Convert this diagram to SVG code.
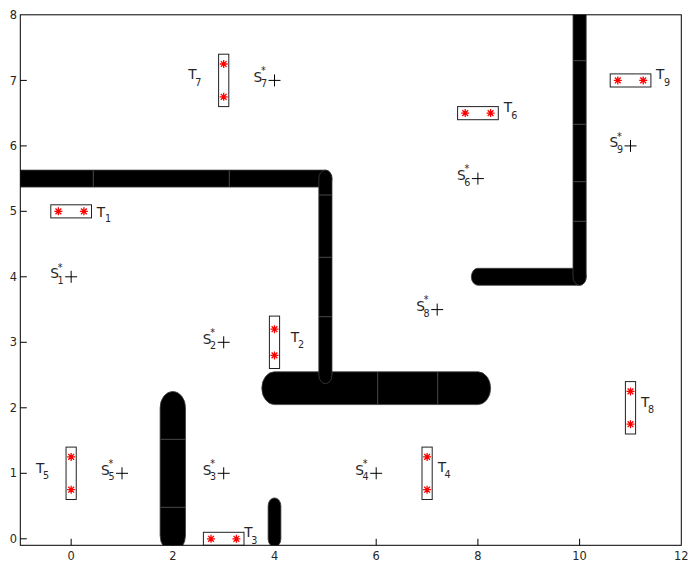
<svg xmlns="http://www.w3.org/2000/svg" xmlns:xlink="http://www.w3.org/1999/xlink" width="688" height="561" viewBox="0 0 688 561">
<style>
.bar{fill:#000;stroke:#404040;stroke-width:0.8}
.sep{stroke:#4a4a4a;stroke-width:1}
.box{fill:none;stroke:#222;stroke-width:1}
.tick{stroke:#000;stroke-width:1}
.tl{font-family:"DejaVu Sans",sans-serif;font-size:11.4px;fill:#262626}
.lab{font-family:"DejaVu Sans",sans-serif;font-size:13.7px;fill:#262626}
.sub{font-family:"DejaVu Sans",sans-serif;font-size:9.6px;fill:#262626}
</style>
<defs>
<clipPath id="plot"><rect x="20.3" y="14.8" width="661" height="530.5"/></clipPath>
<path id="star" d="M-4,0H4M0,-4V4M-2.9,-2.9L2.9,2.9M-2.9,2.9L2.9,-2.9" stroke="#ff0000" stroke-width="1.3" fill="none"/>
<path id="plus" d="M-6,0H6M0,-6V6" stroke="#000" stroke-width="1" fill="none"/>
</defs>
<rect width="688" height="561" fill="#fff"/>
<g id="obstacles" clip-path="url(#plot)">
<path class="bar" d="M-10,170.1 L325.4,170.1 A6.6 8.5 0 0 1 325.4,187.1 L-10,187.1 Z"/>
<path class="bar" d="M274.5,371.8 L477.9,371.8 A12.7 16.4 0 0 1 477.9,404.6 L274.5,404.6 A12.7 16.4 0 0 1 274.5,371.8 Z"/>
<path class="bar" d="M477.9,268.3 L579.6,268.3 A6.6 8.5 0 0 1 579.6,285.3 L477.9,285.3 A6.6 8.5 0 0 1 477.9,268.3 Z"/>
<path class="bar" d="M318.8,178.6 A6.6 8.5 0 0 1 332,178.6 L332,375.1 A6.6 8.5 0 0 1 318.8,375.1 Z"/>
<path class="bar" d="M160.1,407.8 A12.7 16.4 0 0 1 185.5,407.8 L185.5,535.5 A12.7 16.4 0 0 1 160.1,535.5 Z"/>
<path class="bar" d="M268.1,506.1 A6.4 8.2 0 0 1 280.9,506.1 L280.9,538.8 A6.4 8.2 0 0 1 268.1,538.8 Z"/>
<path class="bar" d="M573,-10 L586.2,-10 L586.2,276.8 A6.6 8.5 0 0 1 573,276.8 Z"/>
<g id="separators">
<line class="sep" x1="93.3" y1="170.5" x2="93.3" y2="186.7"/>
<line class="sep" x1="229.3" y1="170.5" x2="229.3" y2="186.7"/>
<line class="sep" x1="319.2" y1="195" x2="331.6" y2="195"/>
<line class="sep" x1="319.2" y1="257.3" x2="331.6" y2="257.3"/>
<line class="sep" x1="319.2" y1="316.7" x2="331.6" y2="316.7"/>
<line class="sep" x1="377.7" y1="372.2" x2="377.7" y2="404.2"/>
<line class="sep" x1="437.7" y1="372.2" x2="437.7" y2="404.2"/>
<line class="sep" x1="160.5" y1="439.3" x2="185.1" y2="439.3"/>
<line class="sep" x1="160.5" y1="507.3" x2="185.1" y2="507.3"/>
<line class="sep" x1="573.4" y1="60.7" x2="585.8" y2="60.7"/>
<line class="sep" x1="573.4" y1="124.3" x2="585.8" y2="124.3"/>
<line class="sep" x1="573.4" y1="181.7" x2="585.8" y2="181.7" stroke="#1e1e1e"/>
<line class="sep" x1="573.4" y1="221.3" x2="585.8" y2="221.3"/>
</g>
</g>
<g id="axes">
<rect x="20.3" y="14.8" width="661" height="530.5" fill="none" stroke="#000" stroke-width="1"/>
<path class="tick" d="M71.15,545.3V538.8M172.8,545.3V538.8M274.5,545.3V538.8M376.2,545.3V538.8M477.9,545.3V538.8M579.6,545.3V538.8M20.3,538.8H26.8M20.3,473.3H26.8M20.3,407.8H26.8M20.3,342.3H26.8M20.3,276.8H26.8M20.3,211.3H26.8M20.3,145.9H26.8M20.3,80.4H26.8"/>
<g class="tl" text-anchor="middle">
<text x="71.15" y="559.5">0</text>
<text x="172.8" y="559.5">2</text>
<text x="274.5" y="559.5">4</text>
<text x="376.2" y="559.5">6</text>
<text x="477.9" y="559.5">8</text>
<text x="579.6" y="559.5">10</text>
<text x="681.3" y="559.5">12</text>
</g>
<g class="tl" text-anchor="end">
<text x="17" y="542.9">0</text>
<text x="17" y="477.4">1</text>
<text x="17" y="411.9">2</text>
<text x="17" y="346.4">3</text>
<text x="17" y="280.9">4</text>
<text x="17" y="215.4">5</text>
<text x="17" y="150">6</text>
<text x="17" y="84.5">7</text>
<text x="17" y="19">8</text>
</g>
</g>
<g id="targets">
<g id="T1"><rect class="box" x="50.8" y="204.8" width="40.7" height="13.1"/><use xlink:href="#star" x="58.4" y="211.35"/><use xlink:href="#star" x="83.9" y="211.35"/><text class="lab" x="96.7" y="216.7">T</text><text class="sub" x="105" y="222.3">1</text></g>
<g id="T2"><rect class="box" x="269.4" y="316.1" width="10.2" height="52.4"/><use xlink:href="#star" x="274.5" y="329.2"/><use xlink:href="#star" x="274.5" y="355.4"/><text class="lab" x="290.7" y="341.7">T</text><text class="sub" x="298" y="348.3">2</text></g>
<g id="T3"><rect class="box" x="203.4" y="532.3" width="40.6" height="13"/><use xlink:href="#star" x="211" y="538.8"/><use xlink:href="#star" x="236.4" y="538.8"/><text class="lab" x="244.3" y="537.3">T</text><text class="sub" x="251.3" y="544">3</text></g>
<g id="T4"><rect class="box" x="422" y="447.1" width="10.2" height="52.4"/><use xlink:href="#star" x="427.1" y="456.9"/><use xlink:href="#star" x="427.1" y="489.7"/><text class="lab" x="437.7" y="472.3">T</text><text class="sub" x="444.6" y="478.3">4</text></g>
<g id="T5"><rect class="box" x="66.05" y="447.1" width="10.2" height="52.4"/><use xlink:href="#star" x="71.15" y="456.9"/><use xlink:href="#star" x="71.15" y="489.7"/><text class="lab" x="36" y="472.7">T</text><text class="sub" x="42.9" y="479">5</text></g>
<g id="T6"><rect class="box" x="457.6" y="106.6" width="40.7" height="13.1"/><use xlink:href="#star" x="465.2" y="113.1"/><use xlink:href="#star" x="490.6" y="113.1"/><text class="lab" x="503.7" y="112.3">T</text><text class="sub" x="511.2" y="119">6</text></g>
<g id="T7"><rect class="box" x="218.6" y="54.2" width="10.2" height="52.4"/><use xlink:href="#star" x="223.7" y="64"/><use xlink:href="#star" x="223.7" y="96.8"/><text class="lab" x="188.3" y="79.3">T</text><text class="sub" x="195.3" y="85.7">7</text></g>
<g id="T8"><rect class="box" x="625.4" y="381.6" width="10.2" height="52.4"/><use xlink:href="#star" x="630.5" y="391.4"/><use xlink:href="#star" x="630.5" y="424.2"/><text class="lab" x="641" y="406.7">T</text><text class="sub" x="647.9" y="413.3">8</text></g>
<g id="T9"><rect class="box" x="610.2" y="73.9" width="40.7" height="13.1"/><use xlink:href="#star" x="617.8" y="80.4"/><use xlink:href="#star" x="643.2" y="80.4"/><text class="lab" x="656" y="79">T</text><text class="sub" x="663.9" y="85.7">9</text></g>
</g>
<g id="starts">
<g id="S1"><use xlink:href="#plus" x="71.15" y="276.8"/><text class="lab" x="50.2" y="278.3">S</text><text class="sub" x="57.6" y="283.8">1</text><text class="sub" x="57.8" y="270.5">*</text></g>
<g id="S2"><use xlink:href="#plus" x="223.7" y="342.3"/><text class="lab" x="202.7" y="343.8">S</text><text class="sub" x="210.1" y="349.3">2</text><text class="sub" x="210.3" y="336">*</text></g>
<g id="S3"><use xlink:href="#plus" x="223.7" y="473.3"/><text class="lab" x="202.7" y="474.8">S</text><text class="sub" x="210.1" y="480.3">3</text><text class="sub" x="210.3" y="467">*</text></g>
<g id="S4"><use xlink:href="#plus" x="376.2" y="473.3"/><text class="lab" x="355.2" y="474.8">S</text><text class="sub" x="362.6" y="480.3">4</text><text class="sub" x="362.8" y="467">*</text></g>
<g id="S5"><use xlink:href="#plus" x="122" y="473.3"/><text class="lab" x="101" y="474.8">S</text><text class="sub" x="108.4" y="480.3">5</text><text class="sub" x="108.6" y="467">*</text></g>
<g id="S6"><use xlink:href="#plus" x="477.9" y="178.6"/><text class="lab" x="456.9" y="180.1">S</text><text class="sub" x="464.3" y="185.6">6</text><text class="sub" x="464.5" y="172.3">*</text></g>
<g id="S7"><use xlink:href="#plus" x="274.5" y="80.4"/><text class="lab" x="253.5" y="81.9">S</text><text class="sub" x="260.9" y="87.4">7</text><text class="sub" x="261.1" y="74.1">*</text></g>
<g id="S8"><use xlink:href="#plus" x="437.2" y="309.6"/><text class="lab" x="416.2" y="311.1">S</text><text class="sub" x="423.6" y="316.6">8</text><text class="sub" x="423.8" y="303.3">*</text></g>
<g id="S9"><use xlink:href="#plus" x="630.5" y="145.9"/><text class="lab" x="609.5" y="147.4">S</text><text class="sub" x="616.9" y="152.9">9</text><text class="sub" x="617.1" y="139.6">*</text></g>
</g>
<g id="connectors"/>
</svg>
